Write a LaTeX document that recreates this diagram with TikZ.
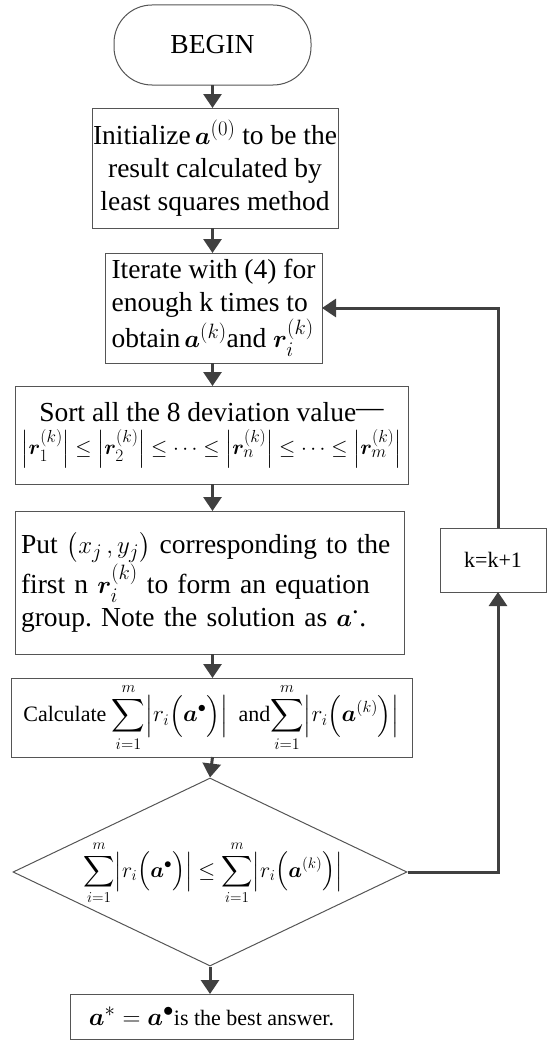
\documentclass[tikz,border=0pt]{standalone}
\usepackage{amsmath}
\usepackage{bm}
\usepackage{graphicx}
\usepackage{fontspec}
\setmainfont{Liberation Serif}
\usetikzlibrary{arrows.meta,shapes.geometric}
\definecolor{boxc}{HTML}{555555}
\definecolor{arrc}{HTML}{404040}
\newcommand\myfbig{\fontsize{27.5}{33}\selectfont}
\newcommand\myfsmall{\fontsize{22}{26}\selectfont}
\newcommand\myfmath{\fontsize{21}{25}\selectfont}
\frenchspacing
\begin{document}
\begin{tikzpicture}[x=1pt,y=-1pt,
  box/.style={draw=boxc, line width=1pt, inner sep=0pt, outer sep=0pt},
  arr/.style={draw=arrc, line width=3pt, -{Triangle[length=14pt,width=18pt]}}]
\useasboundingbox (0,0) rectangle (546,1041);

\node[box, rounded corners=38pt, minimum width=197pt, minimum height=80pt, font=\myfbig] (begin) at (212.5,45) {BEGIN};

\node[box, minimum width=246pt, minimum height=120pt, align=center, font=\myfbig] (init) at (215,168)
  {Initialize$\,\bm{a}^{(0)}$ to be the\\ result calculated by\\ least squares method};

\node[box, minimum width=217pt, minimum height=110pt, align=left, font=\myfbig] (iter) at (213.5,308)
  {Iterate with (4) for\\ enough k times to\\ obtain$\,\bm{a}^{(k)}$and $\bm{r}_i^{(k)}$};

\node[box, minimum width=393pt, minimum height=98pt, align=center, font=\myfbig] (sort) at (211.5,435)
  {Sort all the 8 deviation value\raisebox{0.35ex}{---}\\[0pt]
   \scalebox{0.84}{$\left|\bm{r}_1^{(k)}\right|\le\left|\bm{r}_2^{(k)}\right|\le\cdots\le\left|\bm{r}_n^{(k)}\right|\le\cdots\le\left|\bm{r}_m^{(k)}\right|$}};

\node[box, minimum width=389pt, minimum height=143pt, text width=377pt, align=left, font=\myfbig] (put) at (209.5,582.5)
  {Put $\left(x_j\,, y_j\right)$ corresponding to the\\
   first n $\bm{r}_i^{(k)}$ to form an equation\\
   group. Note the solution as $\bm{a}^{\bm{\cdot}}$.};

\node[box, minimum width=401pt, minimum height=79pt, font=\myfmath] (calc) at (211.5,717.5)
  {{\myfsmall Calculate} \scalebox{1.12}{$\displaystyle\sum_{i=1}^{m}\Bigl|r_i\Bigl(\bm{a}^{\bullet}\Bigr)\Bigr|$}\ \ {\myfsmall and}\scalebox{1.12}{$\displaystyle\sum_{i=1}^{m}\Bigl|r_i\Bigl(\bm{a}^{(k)}\Bigr)\Bigr|$}};

\node[draw=boxc, line width=1pt, diamond, aspect=2.1, minimum width=394pt, minimum height=188pt, inner sep=0pt] (dec) at (210,872) {};
\node[font=\myfmath, inner sep=0pt] (dectext) at (213,873)
  {\scalebox{1.05}{$\displaystyle\sum_{i=1}^{m}\Bigl|r_i\Bigl(\bm{a}^{\bullet}\Bigr)\Bigr|\le\sum_{i=1}^{m}\Bigl|r_i\Bigl(\bm{a}^{(k)}\Bigr)\Bigr|$}};

\node[box, minimum width=283pt, minimum height=45pt, font=\myfsmall] (final) at (211.5,1016.5)
  {{\myfbig$\bm{a}^{*}=\bm{a}^{\bullet}$}is the best answer.};

\node[box, minimum width=106pt, minimum height=64pt, font=\myfsmall] (kbox) at (493,560) {k=k+1};

\coordinate (c1) at (498,872);
\coordinate (c2) at (498,308);

\draw[arr] (begin.south) -- (begin.south |- init.north);
\draw[arr] (begin.south |- init.south) -- (begin.south |- iter.north);
\draw[arr] (begin.south |- iter.south) -- (begin.south |- sort.north);
\draw[arr] (begin.south |- sort.south) -- (begin.south |- put.north);
\draw[arr] (begin.south |- put.south) -- (begin.south |- calc.north);
\draw[arr] (begin.south |- calc.south) -- (dec.north);
\draw[arr] (dec.south) -- (dec.south |- final.north);
\draw[arr] (dec.east) -- (c1) -- (c1 |- kbox.south);
\draw[arr] (c1 |- kbox.north) -- (c2) -- (iter.east);
\end{tikzpicture}
\end{document}
